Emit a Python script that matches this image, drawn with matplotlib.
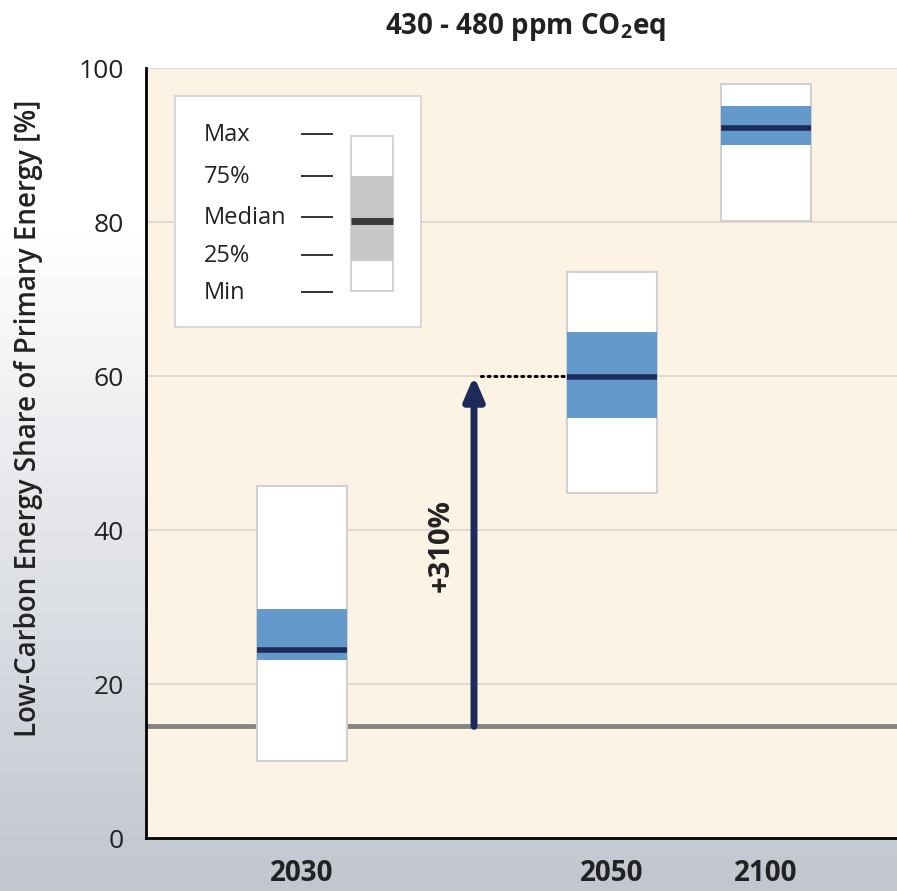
import numpy as np
import matplotlib
matplotlib.use("Agg")
import matplotlib.pyplot as plt
from matplotlib.patches import Rectangle
from matplotlib.colors import LinearSegmentedColormap

plt.rcParams['font.family'] = ['Open Sans', 'DejaVu Sans']
plt.rcParams['mathtext.fontset'] = 'custom'
plt.rcParams['mathtext.rm'] = 'Open Sans'
plt.rcParams['mathtext.bf'] = 'Open Sans:bold'

# --------------------------------------------------------
# Data
# --------------------------------------------------------
years = ["2030", "2050", "2100"]
vmin = [10.0, 44.8, 80.1]
q25 = [23.1, 54.5, 90.0]
median = [24.4, 59.9, 92.2]
q75 = [29.7, 65.7, 95.1]
vmax = [45.7, 73.5, 97.9]

baseline = 14.5      # current low-carbon share
arrow_target = 60.0  # 2050 median
increase_label = "+310%"

legend_labels = ["Max", "75%", "Median", "25%", "Min"]

# layout (x in axis units = pixels from the y axis)
xpos = [156, 466, 620]
box_w = 90
arrow_x = 328

BG = "#FDF3E5"
BLUE = "#6499CC"
NAVY = "#1C2B5A"
EDGE = "#D0D0D0"

fig = plt.figure(figsize=(8.97, 8.91), dpi=100)

# background gradient (white at top -> grey-blue at bottom)
bg_ax = fig.add_axes([0, 0, 1, 1], zorder=-10)
rows = np.arange(891)
t = np.clip((rows - 230) / (891 - 230), 0, 1)
cmap = LinearSegmentedColormap.from_list("bg", ["#FFFFFF", "#C1C6CF"])
bg_ax.imshow(t[:, None], aspect="auto", cmap=cmap, vmin=0, vmax=1,
             extent=[0, 1, 0, 1], origin="upper")
bg_ax.set_axis_off()

ax = fig.add_axes([146 / 897, 53 / 891, 751 / 897, 770 / 891])
ax.set_facecolor(BG)
ax.set_xlim(0, 751)
ax.set_ylim(0, 100)

# gridlines
for g in [20, 40, 60, 80, 100]:
    ax.axhline(g, color="#D9D6D1", lw=1.2, zorder=0)

# baseline
ax.axhline(baseline, color="#858585", lw=3.5, zorder=1)

# boxes
for i in range(len(years)):
    x0 = xpos[i] - box_w / 2
    ax.add_patch(Rectangle((x0, vmin[i]), box_w, vmax[i] - vmin[i],
                           facecolor="white", edgecolor=EDGE, lw=1.5, zorder=2))
    ax.add_patch(Rectangle((x0, q25[i]), box_w, q75[i] - q25[i],
                           facecolor=BLUE, edgecolor="none", zorder=3))
    ax.plot([x0, x0 + box_w], [median[i], median[i]], color=NAVY, lw=4,
            solid_capstyle="butt", zorder=4)

# arrow and dotted connector
ax.annotate("", xy=(arrow_x, arrow_target), xytext=(arrow_x, baseline),
            arrowprops=dict(arrowstyle="-|>,head_length=1.4,head_width=0.6",
                            color=NAVY, lw=5, shrinkA=0, shrinkB=0),
            zorder=5)
ax.plot([arrow_x + 7, xpos[1] - box_w / 2], [arrow_target, arrow_target],
        color="black", lw=2.2, ls=(0, (0.6, 1.6)), dash_capstyle="round",
        zorder=5)
ax.text(arrow_x - 33, 38, increase_label, rotation=90, fontsize=21,
        fontweight="bold", ha="center", va="center", color="#222222")

# legend box
lax = fig.add_axes([175 / 897, (891 - 327) / 891, 246 / 897, 231 / 891])
lax.set_xlim(0, 246)
lax.set_ylim(231, 0)
lax.set_facecolor("white")
for s in lax.spines.values():
    s.set_color("#D5D5D5")
    s.set_linewidth(1.3)
lax.set_xticks([])
lax.set_yticks([])
ly = [39, 81, 122, 160, 197]
for lab, yy in zip(legend_labels, ly):
    lax.text(29, yy, lab, fontsize=17, va="center", ha="left", color="#222222")
    lax.plot([127, 157], [yy - 1, yy - 1], color="#333333", lw=1.4)
lax.add_patch(Rectangle((176, 40), 42, 155, facecolor="white",
                        edgecolor="#CFCFCF", lw=1.3))
lax.add_patch(Rectangle((176, 80), 42, 85, facecolor="#C8C8C8",
                        edgecolor="none"))
lax.plot([176, 218], [125, 125], color="#3A3A3A", lw=5, solid_capstyle="butt")

# axes styling
for s in ["top", "right"]:
    ax.spines[s].set_visible(False)
for s in ["left", "bottom"]:
    ax.spines[s].set_linewidth(2)
    ax.spines[s].set_color("black")
ax.set_yticks([0, 20, 40, 60, 80, 100])
ax.set_yticklabels(["0", "20", "40", "60", "80", "100"], fontsize=19,
                   color="#222222")
ax.set_xticks(xpos)
ax.set_xticklabels(years, fontsize=20, fontweight="bold", color="#222222")
ax.tick_params(axis="y", length=0, pad=16)
ax.tick_params(axis="x", length=0, pad=15)
ax.set_ylabel("Low-Carbon Energy Share of Primary Energy [%]", fontsize=20,
              fontweight="semibold", color="#222222", va="center")
ax.yaxis.set_label_coords(-0.157, 0.545)

fig.text(525 / 897, 1 - 27 / 891, r"430 - 480 ppm CO$_\mathbf{2}$eq",
         fontsize=20, fontweight="bold", ha="center", va="center",
         color="#222222")

fig.savefig("out.png", dpi=100)
